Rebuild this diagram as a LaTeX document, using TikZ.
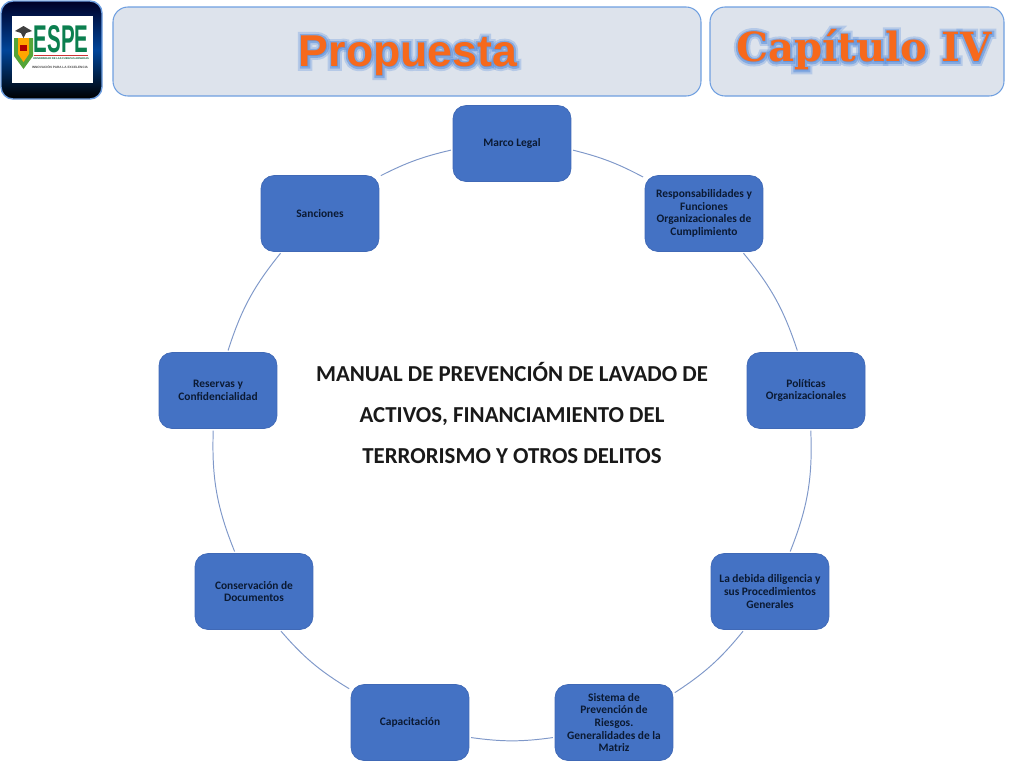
\documentclass[tikz,border=0pt]{standalone}
\usepackage{fontspec}
\usepackage{xcolor}
\setmainfont{Carlito}
\newfontfamily\propfont{Liberation Sans}
\newfontfamily\capfont{DejaVu Serif}
\newfontfamily\propwide{Liberation Sans}[BoldFeatures={FakeBold=18}]
\newfontfamily\propthin{Liberation Sans}[BoldFeatures={FakeBold=9}]
\newfontfamily\capwide{DejaVu Serif}[BoldFeatures={FakeBold=20}]
\newfontfamily\capthin{DejaVu Serif}[BoldFeatures={FakeBold=10}]
\usetikzlibrary{positioning}
\definecolor{boxblue}{HTML}{4472C4}
\definecolor{boxline}{HTML}{4069B6}
\definecolor{arcblue}{HTML}{7F98C9}
\definecolor{textnavy}{HTML}{0B1A33}
\definecolor{headfill}{HTML}{DDE3EC}
\definecolor{headline}{HTML}{6F9FE0}
\definecolor{titleorange}{HTML}{F6691C}
\definecolor{glowblue}{HTML}{5B8FDC}
\definecolor{espegreen}{HTML}{0B7F4F}
\tikzset{
  itembox/.style={draw=boxline,fill=boxblue,rounded corners=0.26cm,minimum width=2.36cm,
    minimum height=1.52cm,inner sep=0pt,align=center,text=textnavy,
    font=\fontsize{6.5}{7.25}\selectfont\bfseries},
  headbox/.style={draw=headline,fill=headfill,line width=0.6pt,rounded corners=0.3cm},
  arcline/.style={draw=arcblue,line width=0.55pt,shorten >=1pt,shorten <=1pt},
  proptext/.style={inner sep=0pt,font=\fontsize{25.4}{30}\selectfont\bfseries},
  captext/.style={inner sep=0pt,font=\fontsize{22.9}{28}\selectfont\bfseries},
}

\begin{document}
\begin{tikzpicture}
  \begin{scope}[x=0.02cm,y=-0.02cm]
    \useasboundingbox (0,0) rectangle (1024,768);

    \draw[draw=headline,line width=0.8pt,rounded corners=0.24cm,top color=black!85!blue,
      bottom color=black,middle color=blue!55!cyan!60!black] (1,1) rectangle (102,99);
    \fill[white] (12,16) rectangle (93,83);
    \fill[espegreen!70!yellow] (14,38) -- (33,38) -- (33,56) -- (23.5,69) -- (14,56) -- cycle;
    \fill[orange!70!yellow] (18,38) -- (29,38) -- (29,54) -- (23.5,62) -- (18,54) -- cycle;
    \fill[red!70!black] (20,45) rectangle (27,51);
    \fill[black!75] (15,31) -- (23.5,26) -- (32,31) -- (26,33) -- (23.5,38) -- (21,33) -- cycle;
    \node[inner sep=0pt,text=espegreen,font=\propfont\fontsize{22}{24}\selectfont\bfseries] (espe) at (61,39) {\scalebox{0.53}[1]{ESPE}};
    \fill[red!60!gray] (34,54.5) rectangle (88,55.2);
    \node[inner sep=0pt,text=espegreen!70!black,font=\propfont\fontsize{1.5}{2}\selectfont\bfseries] (univ) at (61,58.5) {UNIVERSIDAD DE LAS FUERZAS ARMADAS};
    \node[inner sep=0pt,text=black!70,font=\propfont\fontsize{1.8}{2}\selectfont\bfseries] (innov) at (60,67.5) {INNOVACIÓN PARA LA EXCELENCIA};

    \draw[headbox] (113,7) rectangle (701,96);
    \draw[headbox] (710,7) rectangle (1004,96);

    \node[proptext,text=glowblue,opacity=0.3] (propglowa) at (408,56) {\propwide Propuesta};
    \node[proptext,text=glowblue,opacity=0.55] (propglowb) at (408,56) {\propthin Propuesta};
    \node[proptext,text=titleorange] (propuesta) at (408,56) {\propfont Propuesta};

    \node[captext,text=glowblue,opacity=0.3] (capglowa) at (864,50) {\capwide Capítulo IV};
    \node[captext,text=glowblue,opacity=0.55] (capglowb) at (864,50) {\capthin Capítulo IV};
    \node[captext,text=titleorange] (capitulo) at (864,50) {\capfont Capítulo IV};

    \node[itembox] (marco) at (512,143.5) {Marco Legal};
    \node[itembox] (resp) at (704,213.5) {Responsabilidades y\\Funciones\\Organizacionales de\\Cumplimiento};
    \node[itembox] (politicas) at (806,390.5) {Políticas\\Organizacionales};
    \node[itembox] (debida) at (770,591.5) {La debida diligencia y\\sus Procedimientos\\Generales};
    \node[itembox] (sistema) at (614,722.5) {Sistema de\\Prevención de\\Riesgos.\\Generalidades de la\\Matriz};
    \node[itembox] (capacitacion) at (410,722.5) {Capacitación};
    \node[itembox] (conservacion) at (254,591.5) {Conservación de\\Documentos};
    \node[itembox] (reservas) at (218,390.5) {Reservas y\\Confidencialidad};
    \node[itembox] (sanciones) at (320,213.5) {Sanciones};

    \draw[arcline] (marco.-6.5) to[bend left=7] (resp.149);
    \draw[arcline] (resp.-45) to[bend left=10.7] (politicas.102.7);
    \draw[arcline] (politicas.-83) to[bend left=12] (debida.63.4);
    \draw[arcline] (debida.-124) to[bend left=9] (sistema.26);
    \draw[arcline] (sistema.194) to[bend left=8] (capacitacion.-14);
    \draw[arcline] (capacitacion.151.5) to[bend left=9] (conservacion.-56);
    \draw[arcline] (conservacion.116.6) to[bend left=12] (reservas.-97);
    \draw[arcline] (reservas.76) to[bend left=10.7] (sanciones.-135);
    \draw[arcline] (sanciones.32.3) to[bend left=7] (marco.186.5);

    \node[align=center,inner sep=0pt,text=black!90,font=\fontsize{13}{23.3}\selectfont\bfseries] (manual) at (512,413)
      {MANUAL DE PREVENCIÓN DE LAVADO DE\\ACTIVOS, FINANCIAMIENTO DEL\\TERRORISMO Y OTROS DELITOS};
  \end{scope}
\end{tikzpicture}
\end{document}
